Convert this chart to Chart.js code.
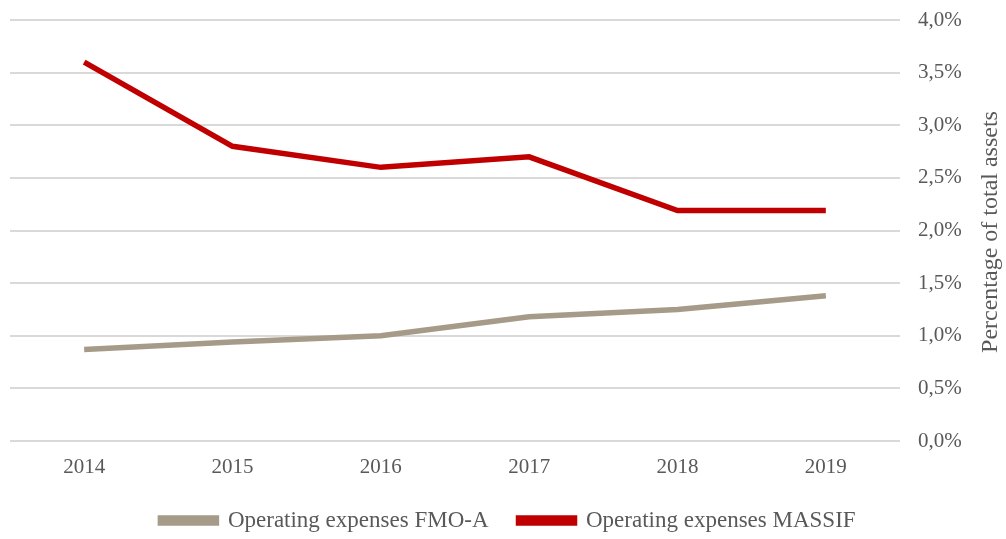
<!DOCTYPE html>
<html lang="en">
<head>
  <meta charset="UTF-8" />
  <title>Operating expenses</title>
  <style>
    * { box-sizing: border-box; }
    body { margin: 0; background: #fff; }
    #wrap { width: 1006px; height: 539px; }
  </style>
</head>
<body>
  <div id="wrap"><canvas id="chart"></canvas></div>

  <script src="https://cdn.jsdelivr.net/npm/chart.js"></script>
  <script>
    // values, in percent of total assets
    const years = ['2014', '2015', '2016', '2017', '2018', '2019'];
    const fmoA = [0.87, 0.94, 1.0, 1.18, 1.25, 1.38];
    const massif = [3.6, 2.8, 2.6, 2.7, 2.19, 2.19];
    const yTicks = [0, 0.5, 1, 1.5, 2, 2.5, 3, 3.5, 4];

    const FONT = "'Liberation Serif', 'DejaVu Serif', serif";
    const TEXT = '#595959';

    // right axis title reads bottom-to-top, so draw it by hand
    const axisTitle = {
      id: 'axisTitle',
      afterDraw(chart) {
        const c = chart.ctx;
        c.save();
        c.translate(991, 232);
        c.rotate(-Math.PI / 2);
        c.fillStyle = TEXT;
        c.font = "24px " + FONT;
        c.textAlign = 'center';
        c.textBaseline = 'middle';
        c.fillText('Percentage of total assets', 0, 0);
        c.restore();
      }
    };

    // keep the wide gap between legend items without a tall legend box
    const legendHeight = {
      id: 'legendHeight',
      beforeLayout(chart) {
        const lg = chart.legend;
        if (lg && !lg._fitPatched) {
          const fit = lg.fit;
          lg.fit = function () { fit.call(this); this.height = 60; };
          lg._fitPatched = true;
        }
      }
    };

    new Chart(document.getElementById('chart'), {
      type: 'line',
      data: {
        labels: years,
        datasets: [
          {
            label: 'Operating expenses FMO-A',
            data: fmoA,
            borderColor: '#a59b88',
            backgroundColor: '#a59b88',
            borderWidth: 5.5,
            pointRadius: 0,
            tension: 0
          },
          {
            label: 'Operating expenses MASSIF',
            data: massif,
            borderColor: '#c00000',
            backgroundColor: '#c00000',
            borderWidth: 5.5,
            pointRadius: 0,
            tension: 0
          }
        ]
      },
      options: {
        responsive: true,
        maintainAspectRatio: false,
        animation: false,
        layout: { padding: { left: 10, top: 20, right: 0, bottom: 0 } },
        scales: {
          x: {
            offset: true,
            grid: { display: false, drawTicks: false },
            border: { display: false },
            afterFit(axis) { axis.height = 38; },
            ticks: { color: TEXT, font: { family: FONT, size: 21 }, padding: 14 }
          },
          y: {
            position: 'right',
            min: 0,
            max: 4,
            afterBuildTicks(axis) { axis.ticks = yTicks.map(v => ({ value: v })); },
            afterFit(axis) {
              axis.width = 106;
              axis.paddingTop = 0;
              axis.paddingBottom = 0;
            },
            grid: { color: '#d9d9d9', lineWidth: 2, drawTicks: false },
            border: { display: false },
            ticks: {
              color: TEXT,
              font: { family: FONT, size: 21 },
              padding: 18,
              callback: v => v.toFixed(1).replace('.', ',') + '%'
            }
          }
        },
        plugins: {
          legend: {
            position: 'bottom',
            labels: {
              color: TEXT,
              font: { family: FONT, size: 23 },
              boxWidth: 56,
              boxHeight: 5,
              padding: 30
            }
          },
          tooltip: { enabled: false }
        }
      },
      plugins: [axisTitle, legendHeight]
    });
  </script>
</body>
</html>
